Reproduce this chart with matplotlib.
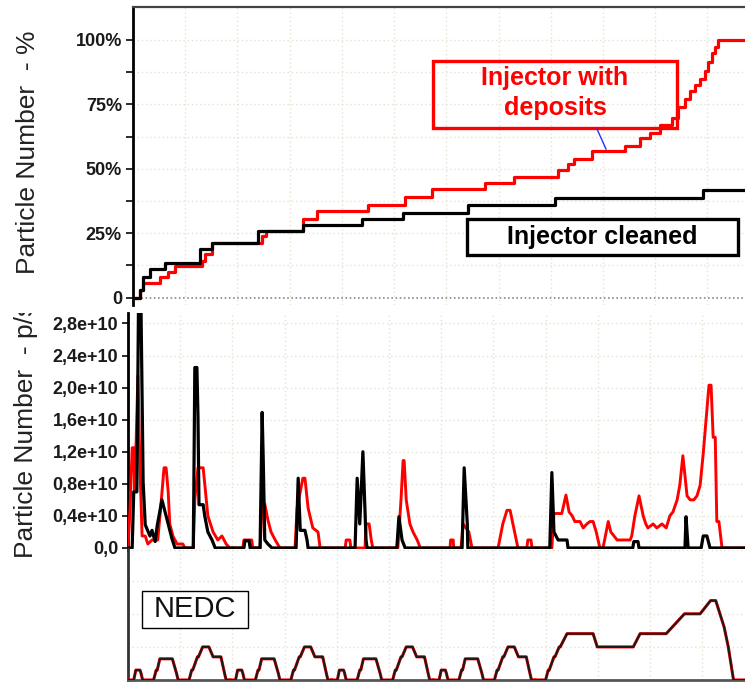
import matplotlib
matplotlib.use("Agg")
import matplotlib.pyplot as plt
from matplotlib.patches import Rectangle
from matplotlib.lines import Line2D
from matplotlib.transforms import Bbox

plt.rcParams["font.family"] = ["Liberation Sans", "DejaVu Sans"]

W, H = 745, 682

# cumulative particle number, % of final value (step-wise)
CUM_T_CLEAN = [0, 13, 19, 33, 61, 128, 151, 239, 326, 439, 517, 642, 808, 1092, 1172]
CUM_CLEAN = [0, 3, 8, 11, 13.5, 18.7, 21, 26, 28, 30.6, 33, 36, 38.8, 41.6, 41.6]

CUM_T_DEP = [0, 10, 13, 19, 52, 67, 80, 132, 138, 151,
             247, 255, 326, 352, 450, 521, 573, 674, 730, 814,
             833, 845, 879, 943, 971, 990, 1010, 1033, 1044, 1057,
             1067, 1077, 1086, 1096, 1102, 1109, 1115, 1121, 1172]
CUM_DEP = [0, 0, 3, 5.5, 8, 10, 12.4, 14, 17, 21,
           23.7, 26, 30.6, 33.5, 36, 39, 42, 44.4, 46.8, 49.4,
           51.8, 53.7, 56.8, 59, 61.8, 64, 67, 69.6, 74, 77,
           80, 82.5, 85, 88, 91.5, 95, 97.3, 100, 100]

CUM_TICKS = [0, 12.5, 25, 37.5, 50, 62.5, 75, 87.5, 100]
CUM_LABELS = ["0", "", "25%", "", "50%", "", "75%", "", "100%"]

# particle number rate, units of 1e10 p/s
PN_T_CLEAN = [0, 8, 11, 17, 20, 25, 29, 33, 42, 46, 52, 56, 65, 75, 84, 90,
              125, 126, 128, 132, 134, 136, 144, 147, 153, 161, 167,
              222, 224, 232, 234,
              253, 257, 259, 262, 268, 276,
              322, 326, 330, 339, 343, 345,
              435, 439, 444, 450, 456, 458,
              515, 519, 525, 531,
              640, 644, 650, 651,
              808, 812, 816, 824, 841, 843,
              967, 969, 977, 979,
              1067, 1069, 1073,
              1098, 1102, 1109, 1115, 1182]
PN_CLEAN = [0, 0, 0.70, 0.70, 2.95, 2.95, 0.82, 0.29, 0.15, 0.22, 0.08, 0.28, 0.6, 0.35, 0.12, 0,
            0, 0.66, 2.25, 2.25, 1.66, 0.54, 0.54, 0.4, 0.2, 0.1, 0,
            0, 0.09, 0.09, 0,
            0, 1.69, 1.13, 0.1, 0.05, 0,
            0, 0.87, 0.22, 0.22, 0.1, 0,
            0, 0.87, 0.3, 1.2, 0.1, 0,
            0, 0.39, 0.1, 0,
            0, 1.0, 0.3, 0,
            0, 0.94, 0.2, 0.1, 0.1, 0,
            0, 0.08, 0.08, 0,
            0, 0.39, 0,
            0, 0.15, 0.15, 0, 0]

PN_T_DEP = [0, 4, 8, 11, 13, 19, 23, 27, 33, 38, 46, 57, 63, 69, 73, 77, 80, 86, 94, 105, 109,
            125, 128, 134, 144, 147, 153, 163, 172, 180, 188, 195,
            220, 222, 237, 239,
            253, 257, 262, 268, 274, 282, 291,
            320, 324, 335, 339, 345, 354, 364, 368,
            416, 418, 425, 427, 454, 456, 462, 466, 469,
            517, 523, 527, 529, 533, 540, 546, 554, 560,
            617, 618, 623, 624,
            638, 642, 653, 659,
            709, 718, 726, 732, 739, 747,
            764, 766, 772, 774,
            812, 816, 831, 839, 845, 851, 856, 866, 872, 879,
            885, 891, 897, 904, 910, 916, 920, 925, 931, 937,
            962, 965, 971, 979, 987, 992, 996, 1006, 1013, 1023,
            1031, 1038, 1044, 1052, 1057, 1063, 1067, 1071, 1077, 1084,
            1090, 1096, 1102, 1109, 1113, 1117, 1121, 1125, 1128, 1132,
            1138, 1182]
PN_DEP = [0, 0.5, 1.25, 1.25, 0.7, 2.15, 1.0, 0.15, 0.15, 0.05, 0.1, 0.1, 0.53, 1.0, 1.0, 0.7, 0.3, 0.15, 0.05, 0.05, 0,
          0, 0.6, 1.0, 1.0, 0.8, 0.4, 0.2, 0.1, 0.15, 0.05, 0,
          0, 0.1, 0.1, 0,
          0, 0.55, 0.55, 0.35, 0.2, 0.1, 0,
          0, 0.5, 0.87, 0.87, 0.5, 0.25, 0.2, 0,
          0, 0.1, 0.1, 0, 0, 0.3, 0.3, 0.1, 0,
          0, 0.6, 1.09, 1.09, 0.6, 0.3, 0.2, 0.1, 0,
          0, 0.1, 0.1, 0,
          0, 0.3, 0.2, 0,
          0, 0.3, 0.47, 0.47, 0.25, 0,
          0, 0.1, 0.1, 0,
          0, 0.43, 0.43, 0.66, 0.45, 0.4, 0.33, 0.33, 0.25, 0.3,
          0.33, 0.33, 0.2, 0, 0, 0.2, 0.33, 0.2, 0.15, 0.1,
          0.1, 0.15, 0.4, 0.65, 0.4, 0.3, 0.25, 0.3, 0.25, 0.3,
          0.25, 0.4, 0.45, 0.6, 0.78, 1.15, 0.9, 0.65, 0.6, 0.6,
          0.65, 0.78, 1.18, 1.72, 2.03, 2.03, 1.38, 1.38, 0.33, 0.33,
          0, 0]

PN_TICKS = [0, 0.4, 0.8, 1.2, 1.6, 2.0, 2.4, 2.8]
PN_LABELS = ["0,0", "0,4e+10", "0,8e+10", "1,2e+10", "1,6e+10", "2,0e+10", "2,4e+10", "2,8e+10"]

# NEDC speed trace, km/h: ECE-15 block (repeated 4x) + EUDC
ECE_T = [0, 11, 15, 23, 25, 28, 49, 54, 56, 61, 85, 93, 96, 117, 122, 124,
         133, 135, 143, 155, 163, 176, 178, 185, 188, 195]
ECE_V = [0, 0, 15, 15, 10, 0, 0, 15, 15, 32, 32, 10, 0, 0, 15, 15,
         35, 35, 50, 50, 35, 35, 35, 10, 0, 0]
ECE_STARTS = [0, 195, 390, 585]
EUDC_T = [780, 800, 805, 807, 816, 818, 826, 828, 841, 891, 899, 968, 981, 1031,
          1066, 1096, 1116, 1126, 1142, 1150, 1160, 1180]
EUDC_V = [0, 0, 15, 15, 35, 35, 50, 50, 70, 70, 50, 50, 70, 70,
          100, 100, 120, 120, 80, 50, 0, 0]


def fx(x):
    return x / W


def fy(y):
    return 1 - y / H


def axes_px(left, top, right, bottom):
    return [fx(left), fy(bottom), fx(right) - fx(left), fy(top) - fy(bottom)]


GRID = dict(color="#e3e3d3", linestyle=(0, (1, 2)), linewidth=1.0)
TICKFONT = dict(fontsize=13, fontweight="bold")

fig = plt.figure(figsize=(W / 100, H / 100), dpi=100)

# ---- top: cumulative ----
ax1 = fig.add_axes(axes_px(133, 7, 745, 305))
ax1.set_xlim(0, 1172)
ax1.set_ylim(-2.9, 112.8)
for s in ("right", "bottom"):
    ax1.spines[s].set_visible(False)
ax1.spines["left"].set_linewidth(2.0)
ax1.spines["top"].set_color("#444444")
ax1.spines["top"].set_linewidth(1.6)
ax1.set_xticks([])
ax1.set_yticks(CUM_TICKS)
ax1.set_yticklabels(CUM_LABELS, **TICKFONT)
ax1.tick_params(axis="y", length=5, width=1.3, pad=3, colors="#1a1a1a")
for t in range(100, 1200, 100):
    ax1.axvline(t, zorder=0, **GRID)
for v in CUM_TICKS[1:]:
    ax1.axhline(v, zorder=0, **GRID)
ax1.axhline(0, color="#888888", linestyle=(0, (1, 1.5)), linewidth=1.2, zorder=1)
ax1.step(CUM_T_DEP, CUM_DEP, where="post", color="#ff0000", lw=2.3, zorder=3)
ax1.step(CUM_T_CLEAN, CUM_CLEAN, where="post", color="#000000", lw=2.3, zorder=4)

# ---- middle: particle number rate ----
ax2 = fig.add_axes(axes_px(128, 313, 745, 550))
ax2.set_xlim(0, 1182)
ax2.set_ylim(-0.025, 2.93)
for s in ("right", "bottom", "top"):
    ax2.spines[s].set_visible(False)
ax2.spines["left"].set_linewidth(2.0)
ax2.set_xticks([])
ax2.set_yticks(PN_TICKS)
ax2.set_yticklabels(PN_LABELS, **TICKFONT)
ax2.tick_params(axis="y", length=4, width=1.3, pad=3, colors="#1a1a1a")
for t in range(100, 1200, 100):
    ax2.axvline(t, zorder=0, **GRID)
for v in PN_TICKS[1:]:
    ax2.axhline(v, zorder=0, **GRID)
ax2.plot(PN_T_DEP, PN_DEP, color="#ff0000", lw=2.1, zorder=3)
ax2.plot(PN_T_CLEAN, PN_CLEAN, color="#000000", lw=2.3, zorder=4)

# ---- bottom: NEDC speed ----
ax3 = fig.add_axes(axes_px(128, 549, 745, 680))
ax3.set_xlim(0, 1182)
ax3.set_ylim(0, 198)
for s in ("right", "top"):
    ax3.spines[s].set_visible(False)
ax3.spines["left"].set_linewidth(2.0)
ax3.spines["left"].set_color("#333333")
ax3.spines["bottom"].set_linewidth(2.0)
ax3.spines["bottom"].set_color("#555555")
ax3.set_xticks([])
ax3.set_yticks([])
for t in range(100, 1200, 100):
    ax3.axvline(t, zorder=0, **GRID)
for v in (50, 100, 150, 197):
    ax3.axhline(v, zorder=0, **GRID)
for start in ECE_STARTS:
    ece_t = [start + t for t in ECE_T]
    ax3.plot(ece_t, ECE_V, color="#ff0000", lw=2.2, zorder=3)
    ax3.plot(ece_t, ECE_V, color="#1a1a1a", lw=1.5, zorder=4)
ax3.plot(EUDC_T, EUDC_V, color="#ff0000", lw=2.2, zorder=3)
ax3.plot(EUDC_T, EUDC_V, color="#1a1a1a", lw=1.5, zorder=4)

# ---- y labels ----
fig.text(fx(28), fy(152), "Particle Number  - %", rotation=90, fontsize=19,
         ha="center", va="center", color="#222222")
lab2 = fig.text(fx(26), fy(558), "Particle Number  - p/s", rotation=90, fontsize=19,
                ha="center", va="bottom", color="#222222")
lab2.set_clip_box(Bbox([[0, 0], [W, H - 313]]))
lab2.set_clip_on(True)

# ---- annotation boxes ----
fig.add_artist(Rectangle((fx(433), fy(128)), fx(677) - fx(433), fy(61) - fy(128),
                         transform=fig.transFigure, fill=False, ec="#ff0000", lw=2.4))
fig.text(fx(555), fy(78), "Injector with", color="#ff0000", fontsize=18,
         fontweight="bold", ha="center", va="center")
fig.text(fx(555), fy(108), "deposits", color="#ff0000", fontsize=18,
         fontweight="bold", ha="center", va="center")
fig.add_artist(Line2D([fx(597), fx(606)], [fy(129), fy(149)],
                      transform=fig.transFigure, color="#2030ff", lw=1.0))

fig.add_artist(Rectangle((fx(467), fy(255)), fx(738) - fx(467), fy(219) - fy(255),
                         transform=fig.transFigure, fill=True, fc="white", ec="#000000", lw=2.4,
                         zorder=5))
fig.text(fx(602), fy(237), "Injector cleaned", color="#000000", fontsize=18,
         fontweight="bold", ha="center", va="center", zorder=6)

fig.add_artist(Rectangle((fx(142), fy(628)), fx(248) - fx(142), fy(591) - fy(628),
                         transform=fig.transFigure, fill=True, fc="white", ec="#000000", lw=1.0))
fig.text(fx(195), fy(609), "NEDC", color="#111111", fontsize=21,
         ha="center", va="center")

fig.savefig("out.png", dpi=100)
